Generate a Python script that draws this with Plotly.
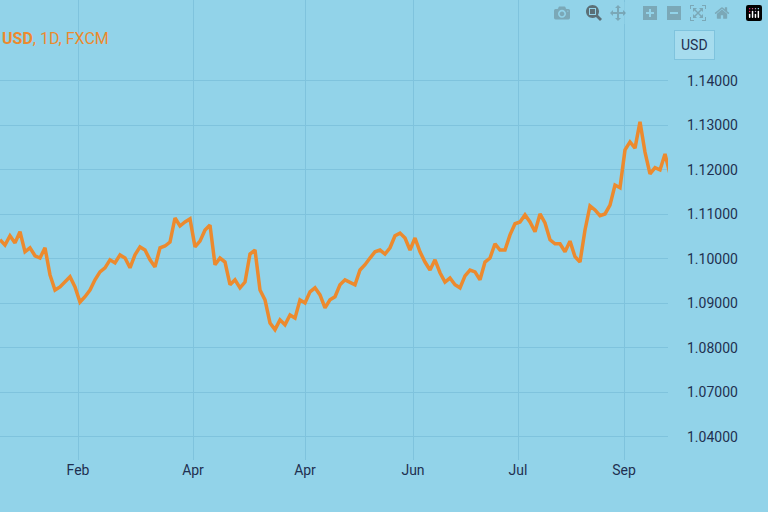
import plotly.graph_objects as go

prices = [1.1043,1.1031,1.1052,1.1036,1.1061,1.1016,1.1025,1.1007,1.1002,1.1025,
1.0964,1.0930,1.0937,1.0948,1.0960,1.0937,1.0903,1.0915,1.0930,1.0953,
1.0971,1.0980,1.0998,1.0991,1.1009,1.1002,1.0980,1.1009,1.1027,1.1020,
1.0998,1.0982,1.1025,1.1029,1.1038,1.1092,1.1074,1.1083,1.1090,1.1027,
1.1040,1.1065,1.1076,1.0987,1.1002,1.0993,1.0942,1.0953,1.0935,1.0948,
1.1011,1.1020,1.0930,1.0908,1.0856,1.0841,1.0863,1.0852,1.0874,1.0867,
1.0908,1.0901,1.0926,1.0935,1.0919,1.0890,1.0908,1.0915,1.0942,1.0953,
1.0948,1.0942,1.0975,1.0987,1.1002,1.1016,1.1020,1.1011,1.1025,1.1052,
1.1058,1.1047,1.1020,1.1047,1.1016,1.0993,1.0975,1.0998,1.0969,1.0948,
1.0957,1.0942,1.0935,1.0962,1.0975,1.0971,1.0953,1.0993,1.1002,1.1034,
1.1020,1.1020,1.1054,1.1079,1.1083,1.1099,1.1083,1.1061,1.1101,1.1081,
1.1043,1.1034,1.1034,1.1016,1.1040,1.1005,1.0993,1.1065,1.1119,1.1110,
1.1097,1.1101,1.1121,1.1166,1.1160,1.1245,1.1263,1.1249,1.1308,1.1240,
1.1191,1.1205,1.1200,1.1236,1.1191]
days = list(range(len(prices)))

x_tick_pos = [15.6, 38.6, 61, 82.6, 103.6, 124.8]
x_tick_text = ["Feb", "Apr", "Apr", "Jun", "Jul", "Sep"]
y_tick_vals = [1.14, 1.13, 1.12, 1.11, 1.10, 1.09, 1.08, 1.07, 1.06]
y_tick_text = ["1.14000", "1.13000", "1.12000", "1.11000", "1.10000",
               "1.09000", "1.08000", "1.07000", "1.04000"]

bg = "#92d3e9"
grid = "#7fc3dd"
fig = go.Figure(go.Scatter(x=days, y=prices, mode="lines",
                           line=dict(color="#ec8a2e", width=3.5)))
fig.update_layout(
    width=768, height=512, margin=dict(l=0, r=100, t=0, b=52),
    paper_bgcolor=bg, plot_bgcolor=bg, showlegend=False,
    font=dict(family="Roboto", color="#1f3050", size=14),
    xaxis=dict(range=[0, 133.6], tickvals=x_tick_pos, ticktext=x_tick_text,
               showgrid=True, gridcolor=grid, zeroline=False, ticks=""),
    yaxis=dict(range=[1.0548, 1.1582], side="right", tickvals=y_tick_vals,
               ticktext=y_tick_text, showgrid=True, gridcolor=grid,
               zeroline=False, ticklabelstandoff=18),
    annotations=[
        dict(x=0.0, xref="paper", y=1 - 27/460, yref="paper", xanchor="left",
             text="<b>USD</b>, 1D, FXCM", showarrow=False,
             font=dict(color="#ec8a2e", size=16)),
        dict(x=715/668, xref="paper", y=1 - 30/460, yref="paper",
             text="USD", showarrow=False, bgcolor="#a6dcee",
             bordercolor="#7fc3dd", borderwidth=1, borderpad=6,
             font=dict(size=14, color="#1f3050")),
    ],
)
fig.write_html("out.html",
               post_script="document.body.style.margin='0';document.body.style.background='#92d3e9';")
